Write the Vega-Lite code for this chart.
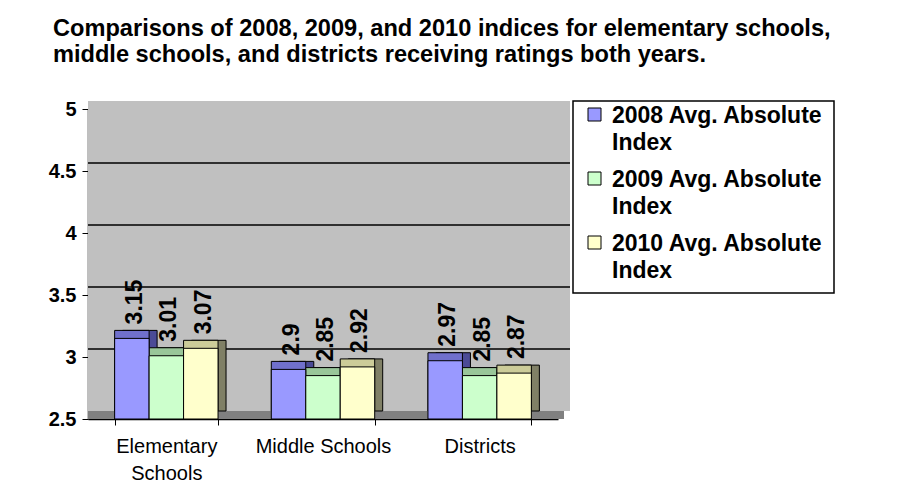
{
  "$schema": "https://vega.github.io/schema/vega-lite/v6.json",
  "autosize": "none",
  "width": 470,
  "height": 310,
  "padding": {"left": 88, "top": 109, "right": 340, "bottom": 84},
  "background": "white",
  "title": {
    "text": ["Comparisons of 2008, 2009, and 2010 indices for elementary schools,", "middle schools, and districts receiving ratings both years."],
    "anchor": "start",
    "frame": "group",
    "dx": -35,
    "offset": 8,
    "fontSize": 23.6,
    "fontWeight": "bold",
    "font": "Liberation Sans",
    "color": "black",
    "lineHeight": 26,
    "baseline": "bottom"
  },
  "data": {
    "values": [
      {"category": "Elementary Schools", "series": "2008 Avg. Absolute Index", "value": 3.15},
      {"category": "Elementary Schools", "series": "2009 Avg. Absolute Index", "value": 3.01},
      {"category": "Elementary Schools", "series": "2010 Avg. Absolute Index", "value": 3.07},
      {"category": "Middle Schools", "series": "2008 Avg. Absolute Index", "value": 2.9},
      {"category": "Middle Schools", "series": "2009 Avg. Absolute Index", "value": 2.85},
      {"category": "Middle Schools", "series": "2010 Avg. Absolute Index", "value": 2.92},
      {"category": "Districts", "series": "2008 Avg. Absolute Index", "value": 2.97},
      {"category": "Districts", "series": "2009 Avg. Absolute Index", "value": 2.85},
      {"category": "Districts", "series": "2010 Avg. Absolute Index", "value": 2.87}
    ]
  },
  "layer": [
    {
      "data": {"values": [{}]},
      "mark": {"type": "rect", "fill": "#C0C0C0", "xOffset": 12, "x2Offset": 12, "yOffset": -8, "y2Offset": -8},
      "encoding": {
        "y": {"datum": 5, "type": "quantitative", "scale": {"domain": [2.5, 5], "zero": false, "nice": false},
              "axis": {"values": [2.5, 3, 3.5, 4, 4.5, 5], "format": "~g"}},
        "y2": {"datum": 2.5}
      }
    },
    {
      "data": {"values": [{}]},
      "mark": {"type": "rule", "color": "#808080", "strokeWidth": 8, "yOffset": -4, "xOffset": 6},
      "encoding": {"y": {"datum": 2.5, "type": "quantitative"}}
    },
    {
      "data": {"values": [{"g": 3}, {"g": 3.5}, {"g": 4}, {"g": 4.5}]},
      "mark": {"type": "rule", "color": "black", "strokeWidth": 1.5, "yOffset": -8, "xOffset": 12},
      "encoding": {"y": {"field": "g", "type": "quantitative"}}
    },
    {
      "layer": [
        {
          "mark": {"type": "bar", "stroke": "black", "strokeWidth": 1, "yOffset": -8, "y2Offset": -8},
          "encoding": {
            "x": {"field": "category", "type": "nominal", "sort": null, "axis": null, "scale": {"range": [8, 478], "paddingInner": 0.34, "paddingOuter": 0.17}},
            "xOffset": {"field": "series", "type": "nominal", "scale": {"paddingInner": 0}},
            "y": {"field": "value", "type": "quantitative"},
            "y2": {"datum": 2.5},
            "fill": {"field": "series", "type": "nominal", "legend": null, "scale": {"range": ["#4B4B96", "#6A8F6A", "#808066"]}}
          }
        }
      ]
    },
    {
      "layer": [
        {
          "mark": {"type": "bar", "stroke": "black", "strokeWidth": 1, "yOffset": -8, "y2Offset": -8},
          "encoding": {
            "x": {"field": "category", "type": "nominal", "sort": null, "scale": {"paddingInner": 0.34, "paddingOuter": 0.17}},
            "xOffset": {"field": "series", "type": "nominal", "scale": {"paddingInner": 0}},
            "y": {"field": "value", "type": "quantitative"},
            "y2": {"datum": 2.5},
            "fill": {"field": "series", "type": "nominal", "legend": null, "scale": {"range": ["#7070CC", "#99C699", "#CCCC99"]}}
          }
        },
        {
          "mark": {"type": "bar", "stroke": "black", "strokeWidth": 1},
          "encoding": {
            "x": {"field": "category", "type": "nominal", "sort": null},
            "xOffset": {"field": "series", "type": "nominal", "scale": {"paddingInner": 0}},
            "y": {"field": "value", "type": "quantitative"},
            "y2": {"datum": 2.5},
            "color": {"field": "series", "type": "nominal", "scale": {"range": ["#9999FF", "#CCFFCC", "#FFFFCC"]},
                      "legend": {"labelExpr": "split(replace(datum.label, ' Index', '|Index'), '|')",
                                 "labelBaseline": "alphabetic",
                                 "symbolType": "M-1,-2.23H1V-0.23H-1Z"}}
          }
        },
        {
          "mark": {"type": "text", "angle": 270, "align": "left", "baseline": "middle", "dx": 14, "dy": 3, "fontSize": 23, "fontWeight": "bold", "color": "black"},
          "encoding": {
            "x": {"field": "category", "type": "nominal", "sort": null},
            "xOffset": {"field": "series", "type": "nominal", "scale": {"paddingInner": 0}},
            "y": {"field": "value", "type": "quantitative"},
            "text": {"field": "value", "type": "quantitative", "format": "~g"}
          }
        }
      ]
    }
  ],
  "resolve": {"scale": {"fill": "independent", "x": "independent", "xOffset": "independent"}},
  "config": {
    "font": "Liberation Sans",
    "view": {"stroke": null},
    "style": {"guide-label": {"lineHeight": 27}},
    "axisX": {
      "title": null, "labelAngle": 0, "domainColor": "black", "domainWidth": 1.5, "tickColor": "black", "tickSize": 6,
      "tickBand": "extent", "labelFontSize": 20, "labelColor": "black", "labelPadding": 11,
      "labelExpr": "datum.label == 'Elementary Schools' ? ['Elementary', 'Schools'] : datum.label"
    },
    "axisY": {
      "title": null, "grid": false, "domainColor": "black", "domainWidth": 1.5, "tickColor": "black", "tickSize": 6,
      "labelFontSize": 20, "labelFontWeight": "bold", "labelColor": "black", "labelPadding": 6
    },
    "legend": {
      "orient": "none", "legendX": 485, "legendY": -8, "title": null,
      "strokeColor": "black", "strokeWidth": 1.5, "fillColor": "white", "padding": 10,
      "labelFontSize": 23, "labelFontWeight": "bold", "labelColor": "black", "labelLimit": 400, "labelOffset": 6,
      "symbolSize": 169, "symbolStrokeColor": "black", "symbolStrokeWidth": 1,
      "rowPadding": 13
    }
  }
}
